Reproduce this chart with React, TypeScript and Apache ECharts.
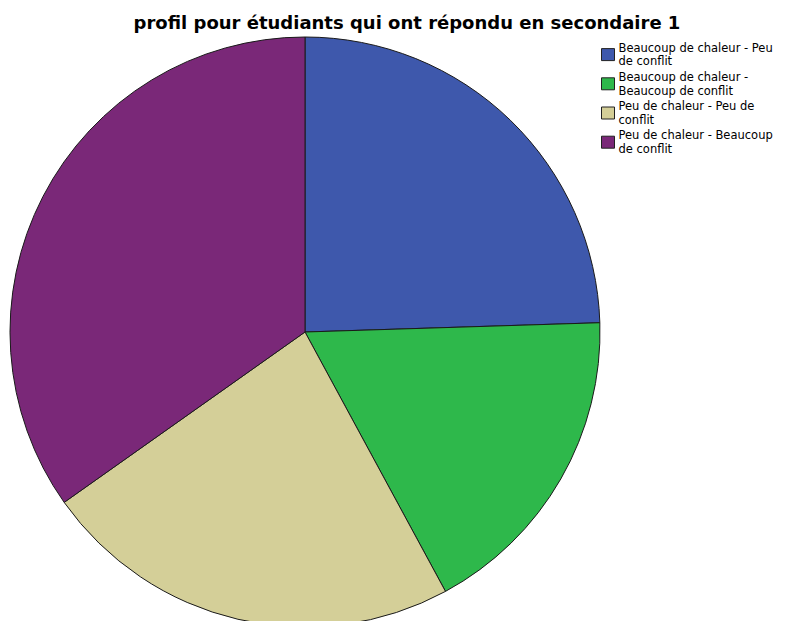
import React, { useEffect, useRef } from "react";
import * as echarts from "echarts";

const titleText = "profil pour étudiants qui ont répondu en secondaire 1";
const categories = [
  "Beaucoup de chaleur - Peu de conflit",
  "Beaucoup de chaleur - Beaucoup de conflit",
  "Peu de chaleur - Peu de conflit",
  "Peu de chaleur - Beaucoup de conflit",
];
const legendLines = [
  "Beaucoup de chaleur - Peu\nde conflit",
  "Beaucoup de chaleur -\nBeaucoup de conflit",
  "Peu de chaleur - Peu de\nconflit",
  "Peu de chaleur - Beaucoup\nde conflit",
];
const values = [24.5, 17.6, 23.1, 34.8];
const colors = ["#3e58ac", "#2eb84b", "#d4cf98", "#7a2878"];

export default function App() {
  const ref = useRef<HTMLDivElement>(null);
  useEffect(() => {
    if (!ref.current) return;
    const chart = echarts.init(ref.current, null, { renderer: "svg" });
    chart.setOption({
      animation: false,
      title: {
        text: titleText,
        left: 402,
        top: 8,
        textAlign: "center",
        textStyle: {
          fontFamily: "DejaVu Sans, sans-serif",
          fontSize: 18,
          fontWeight: "bold",
          color: "#000",
        },
      },
      legend: {
        orient: "vertical",
        left: 601,
        top: 41,
        padding: 0,
        itemWidth: 13,
        itemHeight: 12,
        itemGap: 2,
        icon: "rect",
        selectedMode: false,
        formatter: (name: string) => legendLines[categories.indexOf(name)],
        textStyle: {
          fontFamily: "DejaVu Sans, sans-serif",
          fontSize: 11.5,
          lineHeight: 13.6,
          color: "#000",
          padding: [0, 0, 0, -1],
        },
        itemStyle: { borderColor: "#222", borderWidth: 1 },
        data: categories,
      },
      series: [
        {
          type: "pie",
          center: [305, 332],
          radius: [0, 295],
          startAngle: 90,
          clockwise: true,
          label: { show: false },
          labelLine: { show: false },
          emphasis: { disabled: true },
          silent: true,
          itemStyle: { borderColor: "#1a1a1a", borderWidth: 1 },
          data: categories.map((c, i) => ({
            name: c,
            value: values[i],
            itemStyle: { color: colors[i] },
          })),
        },
      ],
    });
    return () => chart.dispose();
  }, []);
  return (
    <div
      ref={ref}
      style={{ position: "fixed", left: 0, top: 0, width: 788, height: 621, background: "#fff" }}
    />
  );
}
